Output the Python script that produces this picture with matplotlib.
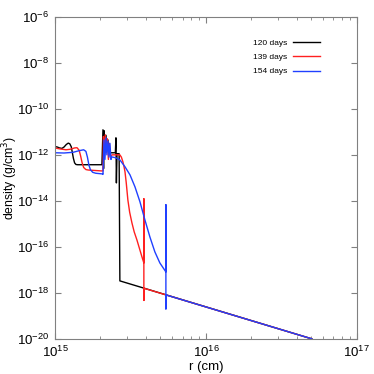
import matplotlib
matplotlib.use("Agg")
import matplotlib.pyplot as plt
import numpy as np
from matplotlib.ticker import LogLocator, NullFormatter, NullLocator

plt.rcParams['font.family'] = ['Liberation Sans', 'DejaVu Sans']

# log10 r (cm), log10 density (g/cm^3)
r_120 = [15.000, 15.015, 15.030, 15.046, 15.060, 15.075, 15.088, 15.098, 15.108, 15.115,
         15.122, 15.130, 15.139, 15.150, 15.311,
         15.318, 15.322, 15.325, 15.331, 15.338, 15.344, 15.351, 15.358, 15.400, 15.404,
         15.407, 15.411, 15.425, 15.430, 16.702]
d_120 = [-11.64, -11.66, -11.70, -11.72, -11.66, -11.55, -11.49, -11.52, -11.65, -11.90,
         -12.15, -12.35, -12.42, -12.43, -12.43,
         -10.91, -12.60, -10.95, -11.80, -11.15, -11.75, -11.35, -11.91, -11.91, -11.26,
         -13.22, -11.95, -11.95, -17.48, -20.00]

r_139 = [15.000, 15.030, 15.073, 15.100, 15.130, 15.146, 15.160, 15.170, 15.180, 15.190,
         15.205, 15.220, 15.310,
         15.318, 15.321, 15.327, 15.333, 15.340, 15.347, 15.354, 15.360, 15.367, 15.380,
         15.430, 15.440, 15.450, 15.457, 15.464, 15.472, 15.483, 15.495, 15.510, 15.525,
         15.543, 15.576, 15.589, 15.589, 15.589, 15.589, 16.702]
d_139 = [-11.70, -11.74, -11.78, -11.76, -11.70, -11.69, -11.80, -12.05, -12.35, -12.55,
         -12.64, -12.66, -12.70,
         -12.70, -11.20, -12.10, -11.13, -11.90, -11.30, -12.20, -11.50, -12.05, -12.00,
         -12.00, -12.10, -12.30, -12.50, -12.74, -13.20, -13.96, -14.50, -14.96, -15.35,
         -15.70, -16.43, -16.70, -13.91, -18.33, -17.80, -20.00]

r_154 = [15.000, 15.060, 15.120, 15.160, 15.190, 15.205, 15.215, 15.225, 15.235, 15.250,
         15.270, 15.315,
         15.318, 15.325, 15.331, 15.338, 15.344, 15.351, 15.358, 15.364, 15.371, 15.377,
         15.404, 15.430, 15.464, 15.497, 15.530, 15.563, 15.596, 15.629, 15.662, 15.695,
         15.735, 15.735, 15.735, 15.735, 16.702]
d_154 = [-11.91, -11.92, -11.89, -11.82, -11.78, -11.85, -12.10, -12.45, -12.65, -12.76,
         -12.80, -12.83,
         -12.85, -11.35, -12.20, -11.26, -12.00, -11.40, -12.10, -11.50, -12.20, -12.09,
         -12.13, -12.22, -12.52, -12.87, -13.39, -14.04, -14.83, -15.57, -16.22, -16.70,
         -17.09, -14.17, -18.70, -18.09, -20.00]

labels = ['120 days', '139 days', '154 days']
colors = ['black', '#ff2020', '#2040ff']

fig = plt.figure(figsize=(3.74, 3.74), dpi=100)
ax = fig.add_axes([0.147, 0.094, 0.807, 0.861])

for r, d, lab, c in zip([r_120, r_139, r_154], [d_120, d_139, d_154], labels, colors):
    ax.plot(10 ** np.array(r), 10 ** np.array(d), color=c, lw=1.0, label=lab)

ax.set_xscale('log')
ax.set_yscale('log')
ax.set_xlim(1e15, 1e17)
ax.set_ylim(1e-20, 1e-6)
ax.set_yticks([10.0 ** k for k in range(-20, -5, 2)])
ax.yaxis.set_minor_locator(NullLocator())
ax.xaxis.set_minor_locator(LogLocator(base=10, subs=np.arange(2, 10), numticks=20))
ax.xaxis.set_minor_formatter(NullFormatter())

ax.tick_params(which='both', direction='in', top=True, right=True, color='#808080',
               labelsize=9.5, pad=4)
ax.tick_params(which='major', length=4)
ax.tick_params(which='minor', length=2.5)
for s in ax.spines.values():
    s.set_color('#808080')
    s.set_linewidth(0.8)

ax.set_xlabel('r (cm)', fontsize=9.5, labelpad=1)
ax.set_ylabel('density (g/cm$^3$)', fontsize=8.8)
ax.yaxis.set_label_coords(-0.115, 0.5)

ax.legend(loc='upper right', bbox_to_anchor=(0.89, 0.94), frameon=False, fontsize=6,
          markerfirst=False, handlelength=3.3, handletextpad=0.7, borderaxespad=0,
          labelspacing=0.75)

fig.savefig('out.png', dpi=100)
